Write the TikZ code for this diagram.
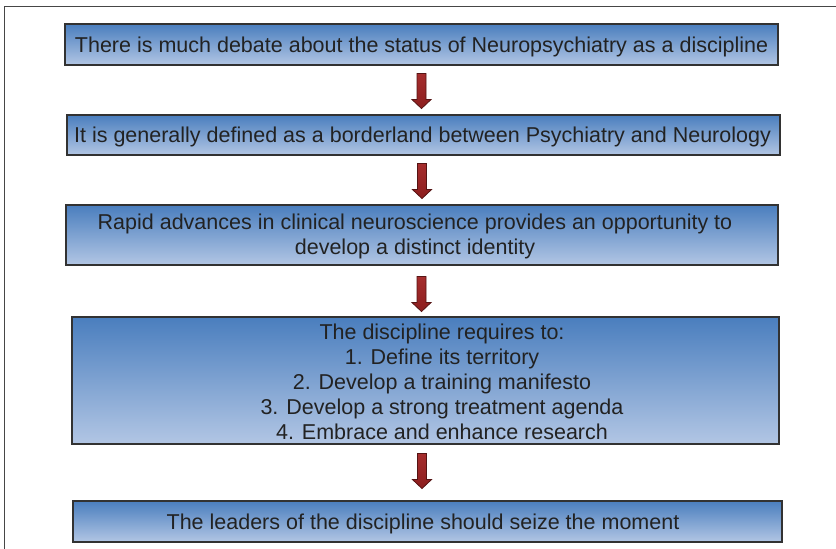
\documentclass[tikz,border=0pt]{standalone}
\usepackage{fontspec}
\setmainfont{Liberation Sans}
\usetikzlibrary{calc}
\definecolor{boxtop}{RGB}{74,126,190}
\definecolor{boxbot}{RGB}{178,198,228}
\definecolor{boxline}{RGB}{50,50,50}
\definecolor{txtcol}{RGB}{34,34,34}
\definecolor{arrtop}{RGB}{165,45,45}
\definecolor{arrbot}{RGB}{140,30,30}
\definecolor{arrline}{RGB}{85,20,20}
\definecolor{framecol}{RGB}{70,70,70}
\tikzset{
  box/.style={draw=boxline, line width=1.1pt, top color=boxtop, bottom color=boxbot,
    rectangle, inner sep=0pt},
  txt/.style={inner sep=0pt, text=txtcol, align=center, font=\fontsize{21.5}{25}\selectfont},
  blockarrow/.pic={
    \path[draw=arrline, line width=0.8pt, top color=arrtop, bottom color=arrbot, line join=miter]
      (-4.5,0) -- (4.5,0) -- (4.5,26) -- (9.5,26) -- (0,35) -- (-9.5,26) -- (-4.5,26) -- cycle;
  }
}
\begin{document}
\begin{tikzpicture}[x=1pt,y=-1pt]
\useasboundingbox (0,0) rectangle (836,549);
% frame
\draw[framecol, line width=1pt] (4.5,549) -- (4.5,6) -- (836,6);
% boxes
\node[box, minimum width=713pt, minimum height=41pt] (b1) at (421.5,44.5) {};
\node[txt] (t1) at (421.5,46.5)
  {There is much debate about the status of Neuropsychiatry as a discipline};
\node[box, minimum width=713pt, minimum height=40pt] (b2) at (423.5,135) {};
\node[txt] (t2) at (422.5,137)
  {It is generally defined as a borderland between Psychiatry and Neurology};
\node[box, minimum width=712pt, minimum height=60pt] (b3) at (422,235) {};
\node[txt] (t3) at (415,236.5)
  {Rapid advances in clinical neuroscience provides an opportunity to\\develop a distinct identity};
\node[box, minimum width=707pt, minimum height=127pt] (b4) at (425.5,380.5) {};
\node[txt] (t4) at (442,381.5)
  {The discipline requires to:\\1. Define its territory\\2. Develop a training manifesto\\3. Develop a strong treatment agenda\\4. Embrace and enhance research};
\node[box, minimum width=709pt, minimum height=41pt] (b5) at (427.5,521.5) {};
\node[txt] (t5) at (423,523.5)
  {The leaders of the discipline should seize the moment};
% arrows
\coordinate (a1) at ($(b1.south)+(0,8)$);
\coordinate (a2) at ($(b2.south)+(-1.5,8)$);
\coordinate (a3) at ($(b3.south)+(-0.5,11)$);
\coordinate (a4) at ($(b4.south)+(-3.5,9)$);
\pic at (a1) {blockarrow};
\pic at (a2) {blockarrow};
\pic at (a3) {blockarrow};
\pic at (a4) {blockarrow};
\end{tikzpicture}
\end{document}
